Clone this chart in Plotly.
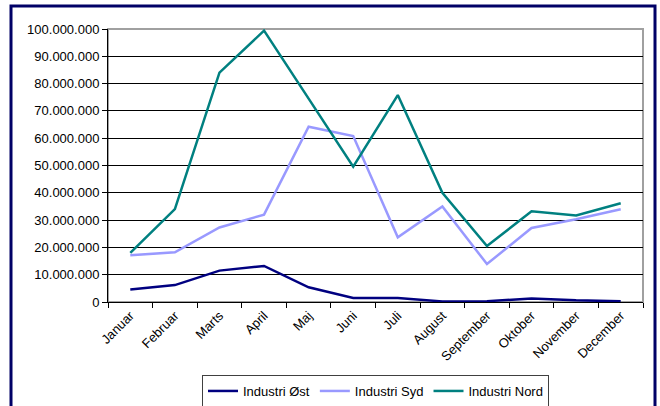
import plotly.graph_objects as go

maaneder = ["Januar", "Februar", "Marts", "April", "Maj", "Juni", "Juli",
            "August", "September", "Oktober", "November", "December"]

industri_oest = [4_600_000, 6_200_000, 11_500_000, 13_200_000, 5_400_000, 1_500_000,
                 1_500_000, 200_000, 300_000, 1_300_000, 600_000, 300_000]
industri_syd = [17_100_000, 18_200_000, 27_300_000, 32_000_000, 64_200_000, 60_800_000,
                23_700_000, 35_000_000, 13_900_000, 27_100_000, 30_300_000, 34_000_000]
industri_nord = [18_000_000, 34_000_000, 84_000_000, 99_400_000, 74_500_000, 49_600_000,
                 75_800_000, 40_000_000, 20_500_000, 33_200_000, 31_700_000, 36_200_000]

serier = [
    ("Industri Øst", industri_oest, "#000080"),
    ("Industri Syd", industri_syd, "#9999FF"),
    ("Industri Nord", industri_nord, "#008080"),
]

fig = go.Figure()
for navn, vaerdier, farve in serier:
    fig.add_trace(go.Scatter(
        x=maaneder, y=vaerdier, name=navn, mode="lines",
        line=dict(color=farve, width=2.5),
    ))

font = dict(family="Liberation Sans, Arial, sans-serif", size=13, color="black")

fig.update_layout(
    width=660, height=406,
    margin=dict(l=108, r=17, t=29, b=104, autoexpand=False),
    paper_bgcolor="white",
    plot_bgcolor="white",
    separators=",.",
    font=font,
    showlegend=True,
    legend=dict(
        orientation="h", x=0.5, xanchor="center",
        y=(302 - 391) / 273, yanchor="middle",
        bordercolor="#404040", borderwidth=1, font=dict(size=13),
        itemwidth=30, tracegroupgap=0,
    ),
    xaxis=dict(
        type="category", tickangle=-45, tickson="boundaries",
        ticks="outside", ticklen=5, tickcolor="black",
        showline=True, linecolor="black", linewidth=1,
        showgrid=False, zeroline=False, fixedrange=True,
        range=[-0.5, 11.5], automargin=False,
    ),
    yaxis=dict(
        range=[0, 100_000_000], dtick=10_000_000, tickformat=",.0f",
        ticks="outside", ticklen=5, tickcolor="black",
        showline=True, linecolor="black", linewidth=1,
        showgrid=True, gridcolor="black", gridwidth=1,
        zeroline=False, fixedrange=True, automargin=False,
    ),
    shapes=[
        # grey frame around the plot area
        dict(type="rect", xref="paper", yref="paper", x0=0, x1=1, y0=0, y1=1,
             line=dict(color="#a0a0a0", width=2), layer="below"),
        # dark outer frame of the chart
        dict(type="rect", xref="paper", yref="paper",
             x0=(11 - 108) / 535, x1=(655 - 108) / 535,
             y0=(302 - 412) / 273, y1=(302 - 6) / 273,
             line=dict(color="#000066", width=3), layer="above"),
    ],
)

fig.write_html("out.html")
